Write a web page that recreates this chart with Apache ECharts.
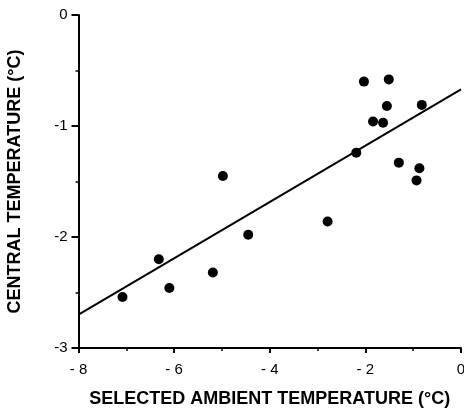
<!DOCTYPE html>
<html>
<head>
<meta charset="utf-8">
<script src="https://cdn.jsdelivr.net/npm/echarts@6/dist/echarts.min.js"></script>
<style>
  html, body { margin: 0; padding: 0; background: #fff; }
  #chart { width: 464px; height: 410px; }
</style>
</head>
<body>
<div id="chart"></div>
<script>
  // ambient vs central temperature
  const ambientTemp = [-7.08, -6.32, -6.10, -5.19, -4.98, -4.45, -2.79, -2.19, -2.03, -1.84, -1.63, -1.51, -1.55, -1.30, -0.87, -0.93, -0.82];
  const centralTemp = [-2.54, -2.20, -2.46, -2.32, -1.45, -1.98, -1.86, -1.24, -0.60, -0.96, -0.97, -0.58, -0.82, -1.33, -1.38, -1.49, -0.81];

  // regression line end points
  const fitX = [-8, 0];
  const fitY = [-2.70, -0.67];

  const xTickLabels = ['- 8', '- 6', '- 4', '- 2', '0'];
  const yTickLabels = ['-3', '-2', '-1', '0'];

  const points = ambientTemp.map((x, i) => [x, centralTemp[i]]);
  const fitLine = fitX.map((x, i) => [x, fitY[i]]);

  const chart = echarts.init(document.getElementById('chart'));

  const labelFont = {
    fontFamily: 'Liberation Sans, Arial, sans-serif',
    fontSize: 18,
    fontWeight: 'bold',
    color: '#000',
  };

  chart.setOption({
    backgroundColor: '#fff',
    animation: false,
    grid: {
      left: 78.5,
      right: 3,
      top: 15,
      bottom: 62,
      outerBoundsMode: 'none',
    },
    xAxis: {
      type: 'value',
      min: -8,
      max: 0,
      interval: 2,
      name: 'SELECTED AMBIENT TEMPERATURE (°C)',
      nameLocation: 'middle',
      nameGap: 42,
      nameTextStyle: labelFont,
      axisLine: { show: true, onZero: false, lineStyle: { color: '#000', width: 2 } },
      axisTick: { show: true, length: 5, lineStyle: { color: '#000', width: 2 } },
      minorTick: { show: true, splitNumber: 2, length: 3, lineStyle: { color: '#000', width: 1.5 } },
      splitLine: { show: false },
      axisLabel: {
        margin: 14,
        fontFamily: 'Liberation Sans, Arial, sans-serif',
        fontSize: 15,
        color: '#000',
        formatter: (v, i) => xTickLabels[i],
      },
    },
    yAxis: {
      type: 'value',
      min: -3,
      max: 0,
      interval: 1,
      name: 'CENTRAL TEMPERATURE (°C)',
      nameLocation: 'middle',
      nameGap: 54,
      nameTextStyle: labelFont,
      axisLine: { show: true, onZero: false, lineStyle: { color: '#000', width: 2 } },
      axisTick: { show: true, length: 7, lineStyle: { color: '#000', width: 2 } },
      minorTick: { show: true, splitNumber: 2, length: 3, lineStyle: { color: '#000', width: 1.5 } },
      splitLine: { show: false },
      axisLabel: {
        margin: 11,
        fontFamily: 'Liberation Sans, Arial, sans-serif',
        fontSize: 15,
        color: '#000',
        formatter: (v, i) => yTickLabels[i],
      },
    },
    series: [
      {
        type: 'line',
        data: fitLine,
        symbol: 'none',
        lineStyle: { color: '#000', width: 2 },
        silent: true,
      },
      {
        type: 'scatter',
        data: points,
        symbol: 'circle',
        symbolSize: 10,
        itemStyle: { color: '#000', opacity: 1 },
      },
    ],
  });
</script>
</body>
</html>
